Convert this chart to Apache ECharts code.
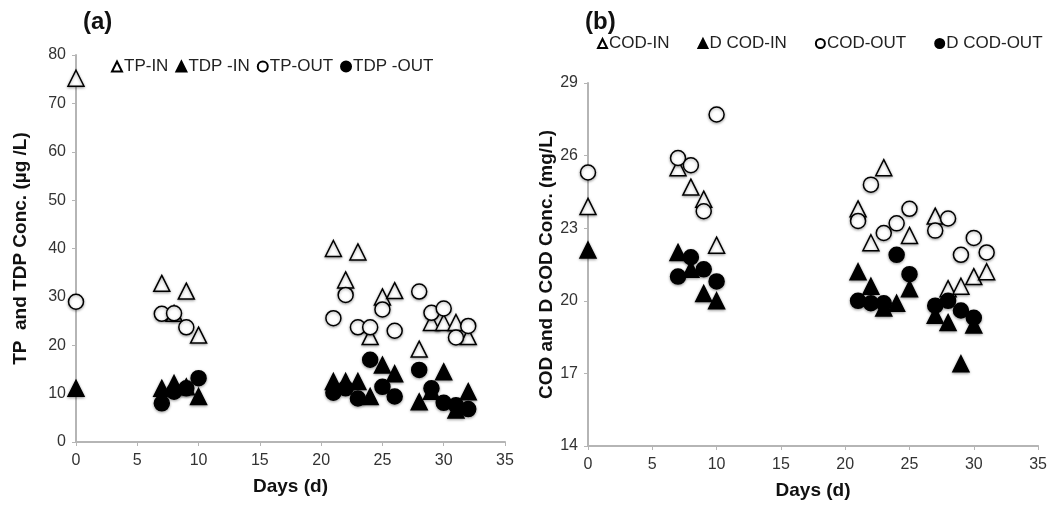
<!DOCTYPE html>
<html>
<head>
<meta charset="utf-8">
<script src="https://cdn.jsdelivr.net/npm/echarts@6/dist/echarts.min.js"></script>
<style>
html, body { margin: 0; padding: 0; background: #fff; }
#main { width: 1050px; height: 505px; }
</style>
</head>
<body>
<div id="main"></div>
<script>
// --- (a) TP / TDP 数据 [天, 浓度] ---
var tpIn = [[0, 75.2], [7, 32.8], [8, 26.6], [9, 31.2], [10, 22.1],
	[21, 40.0], [22, 33.5], [23, 39.3], [24, 21.8], [25, 30.0], [26, 31.3],
	[28, 19.2], [29, 24.7], [30, 24.7], [31, 24.7], [32, 21.8]];
var tdpIn = [[0, 11.1], [7, 11.1], [8, 12.1], [9, 11.4], [10, 9.4],
	[21, 12.5], [22, 12.5], [23, 12.5], [24, 9.4], [25, 15.9], [26, 14.1],
	[28, 8.3], [29, 10.5], [30, 14.5], [31, 6.6], [32, 10.4]];
var tpOut = [[0, 29.0], [7, 26.5], [8, 26.6], [9, 23.7],
	[21, 25.6], [22, 30.4], [23, 23.7], [24, 23.7], [25, 27.4], [26, 23.0],
	[28, 31.1], [29, 26.7], [30, 27.6], [31, 21.6], [32, 24.0]];
var tdpOut = [[7, 8.0], [8, 10.4], [9, 11.1], [10, 13.2],
	[21, 10.2], [22, 11.1], [23, 9.0], [24, 17.0], [25, 11.4], [26, 9.4],
	[28, 14.9], [29, 11.1], [30, 8.1], [31, 7.6], [32, 6.8]];

// --- (b) COD 数据 [天, 浓度] ---
var codIn = [[0, 23.9], [7, 25.5], [8, 24.7], [9, 24.2], [10, 22.3],
	[21, 23.8], [22, 22.4], [23, 25.5], [25, 22.7], [27, 23.5],
	[28, 20.5], [29, 20.6], [30, 21.0], [31, 21.2]];
var dcodIn = [[0, 22.1], [7, 22.0], [8, 21.3], [9, 20.3], [10, 20.0],
	[21, 21.2], [22, 20.6], [23, 19.7], [24, 19.9], [25, 20.5], [27, 19.4],
	[28, 19.1], [29, 17.4], [30, 19.0]];
var codOut = [[0, 25.3], [7, 25.9], [8, 25.6], [9, 23.7], [10, 27.7],
	[21, 23.3], [22, 24.8], [23, 22.8], [24, 23.2], [25, 23.8], [27, 22.9],
	[28, 23.4], [29, 21.9], [30, 22.6], [31, 22.0]];
var dcodOut = [[7, 21.0], [8, 21.8], [9, 21.3], [10, 20.8],
	[21, 20.0], [22, 19.9], [23, 19.9], [24, 21.9], [25, 21.1], [27, 19.8],
	[28, 20.0], [29, 19.6], [30, 19.3]];

var xTicks = { min: 0, max: 35, interval: 5 };
var leftY = { min: 0, max: 80, interval: 10 };
var rightY = { min: 14, max: 29, interval: 3 };

var fontSans = "'Liberation Sans', Arial, sans-serif";

function axisX(gridIndex) {
	return {
		type: 'value', gridIndex: gridIndex,
		min: xTicks.min, max: xTicks.max, interval: xTicks.interval,
		name: 'Days (d)', nameLocation: 'middle', nameGap: 35,
		nameTextStyle: { fontFamily: fontSans, fontWeight: 'bold', fontSize: 19, color: '#111' },
		axisLine: { show: true, lineStyle: { color: '#b5b5b5', width: 2 } },
		axisTick: { show: true, length: 4, lineStyle: { color: '#b5b5b5' } },
		axisLabel: { fontFamily: fontSans, fontSize: 16, color: '#333', margin: 11 },
		splitLine: { show: false }
	};
}

function axisY(gridIndex, r, name, gap) {
	return {
		type: 'value', gridIndex: gridIndex,
		min: r.min, max: r.max, interval: r.interval,
		name: name, nameLocation: 'middle', nameGap: gap,
		nameTextStyle: { fontFamily: fontSans, fontWeight: 'bold', fontSize: 19, color: '#111' },
		axisLine: { show: true, lineStyle: { color: '#b5b5b5', width: 2 } },
		axisTick: { show: true, length: 4, lineStyle: { color: '#b5b5b5' } },
		axisLabel: { fontFamily: fontSans, fontSize: 16, color: '#333', margin: 10 },
		splitLine: { show: false }
	};
}

function pts(name, data, symbol, filled, idx) {
	return {
		name: name, type: 'scatter', data: data,
		xAxisIndex: idx, yAxisIndex: idx,
		symbol: symbol, symbolSize: symbol == 'circle' ? 15 : 16,
		itemStyle: {
			color: filled ? '#000' : '#fff',
			borderColor: '#000', borderWidth: 1.5,
			opacity: 1,
			shadowBlur: 3, shadowColor: 'rgba(0,0,0,0.35)', shadowOffsetY: 1
		}
	};
}

var myChart = echarts.init(document.getElementById('main'));
myChart.setOption({
	animation: false,
	title: [
		{ text: '(a)', left: 78, top: 5, textStyle: { fontFamily: fontSans, fontSize: 24, fontWeight: 'bold', color: '#111' } },
		{ text: '(b)', left: 580, top: 5, textStyle: { fontFamily: fontSans, fontSize: 24, fontWeight: 'bold', color: '#111' } }
	],
	legend: [
		{
			data: [{ name: 'TP-IN', icon: 'triangle' }, { name: 'TDP -IN', icon: 'triangle' },
				{ name: 'TP-OUT', icon: 'circle' }, { name: 'TDP -OUT', icon: 'circle' }],
			left: 106, top: 53, itemWidth: 10, itemHeight: 10, itemGap: 7,
			textStyle: { fontFamily: fontSans, fontSize: 17, color: '#222', padding: [0, 0, 0, -3] }
		},
		{
			data: [{ name: 'COD-IN', icon: 'triangle' }, { name: 'D COD-IN', icon: 'triangle' },
				{ name: 'COD-OUT', icon: 'circle' }, { name: 'D COD-OUT', icon: 'circle' }],
			left: 592, top: 30, itemWidth: 9, itemHeight: 9, itemGap: 28,
			textStyle: { fontFamily: fontSans, fontSize: 17, color: '#222', padding: [0, 0, 0, -3] }
		}
	],
	grid: [
		{ left: 76, right: 545, top: 55, bottom: 63 },
		{ left: 588, right: 11, top: 83, bottom: 58 }
	],
	xAxis: [axisX(0), axisX(1)],
	yAxis: [
		axisY(0, leftY, 'TP  and TDP Conc. (µg /L)', 46),
		axisY(1, rightY, 'COD and D COD Conc. (mg/L)', 31)
	],
	series: [
		pts('TP-IN', tpIn, 'triangle', false, 0),
		pts('TDP -IN', tdpIn, 'triangle', true, 0),
		pts('TP-OUT', tpOut, 'circle', false, 0),
		pts('TDP -OUT', tdpOut, 'circle', true, 0),
		pts('COD-IN', codIn, 'triangle', false, 1),
		pts('D COD-IN', dcodIn, 'triangle', true, 1),
		pts('COD-OUT', codOut, 'circle', false, 1),
		pts('D COD-OUT', dcodOut, 'circle', true, 1)
	]
});
</script>
</body>
</html>
